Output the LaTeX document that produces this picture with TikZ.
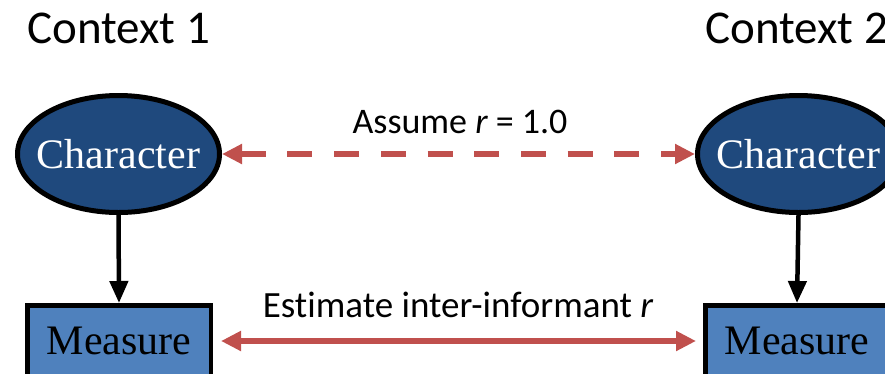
\documentclass[tikz,border=0pt]{standalone}
\usepackage{fontspec}
\setmainfont{Liberation Serif}
\newfontfamily\labelfont[Ligatures=NoCommon]{Carlito}
\usetikzlibrary{arrows.meta,shapes.geometric}
\definecolor{chardark}{HTML}{1F497D}
\definecolor{measblue}{HTML}{4F81BD}
\definecolor{linkred}{HTML}{C0504D}
\tikzset{
  ctxlabel/.style={anchor=base west, inner sep=0pt, font=\labelfont\fontsize{47}{56}\selectfont},
  linklabel/.style={anchor=base, inner sep=0pt, font=\labelfont\fontsize{36.5}{44}\selectfont},
  charnode/.style={ellipse, draw=black, line width=5pt, fill=chardark, text=white,
    minimum width=202pt, minimum height=117pt, inner sep=0pt,
    font=\fontsize{42}{50}\selectfont},
  measnode/.style={rectangle, draw=black, line width=4.5pt, fill=measblue, text=black,
    minimum width=183.5pt, minimum height=71.5pt, inner sep=0pt,
    font=\fontsize{42}{50}\selectfont},
  causal/.style={draw=black, line width=4.5pt, -{Triangle[length=22pt,width=18pt]}},
  assumed/.style={draw=linkred, line width=6pt, dash pattern=on 25pt off 21.7pt,
    {Triangle[length=20pt,width=19pt]}-{Triangle[length=20pt,width=19pt]}},
  estimated/.style={draw=linkred, line width=6pt, shorten <=8pt, shorten >=7pt,
    {Triangle[length=20pt,width=19pt]}-{Triangle[length=20pt,width=19pt]}}
}
\begin{document}
\begin{tikzpicture}[x=1pt, y=-1pt]
  \useasboundingbox (0,0) rectangle (885,373);
  \clip (0,0) rectangle (885,373);

  % headings
  \node[ctxlabel] (ctx1) at (27,43) {Context 1};
  \node[ctxlabel] (ctx2) at (705,43) {Context 2};

  % latent characters (the label is given zero width so the ellipse keeps its size)
  \node[charnode] (char1) at (118.5,154) {\makebox[0pt]{Character}};
  \node[charnode] (char2) at (798.5,154) {\makebox[0pt]{Character}};

  % measures
  \node[measnode] (meas1) at (119,341) {Measure};
  \node[measnode] (meas2) at (797,341) {Measure};

  % character -> measure
  \draw[causal] (char1.south) -- (meas1.north);
  \draw[causal] (char2.south) -- (meas2.north);

  % links between contexts
  \draw[assumed] (char1.east) -- (char2.west);
  \draw[estimated] (meas1.east) -- (meas2.west);

  \node[linklabel, font=\labelfont\fontsize{36}{44}\selectfont] (lab1) at (460,133) {Assume {\itshape r} = 1.0};
  \node[linklabel, font=\labelfont\fontsize{37}{44}\selectfont] (lab2) at (458,317) {Estimate inter-informant {\itshape r}};
\end{tikzpicture}
\end{document}
